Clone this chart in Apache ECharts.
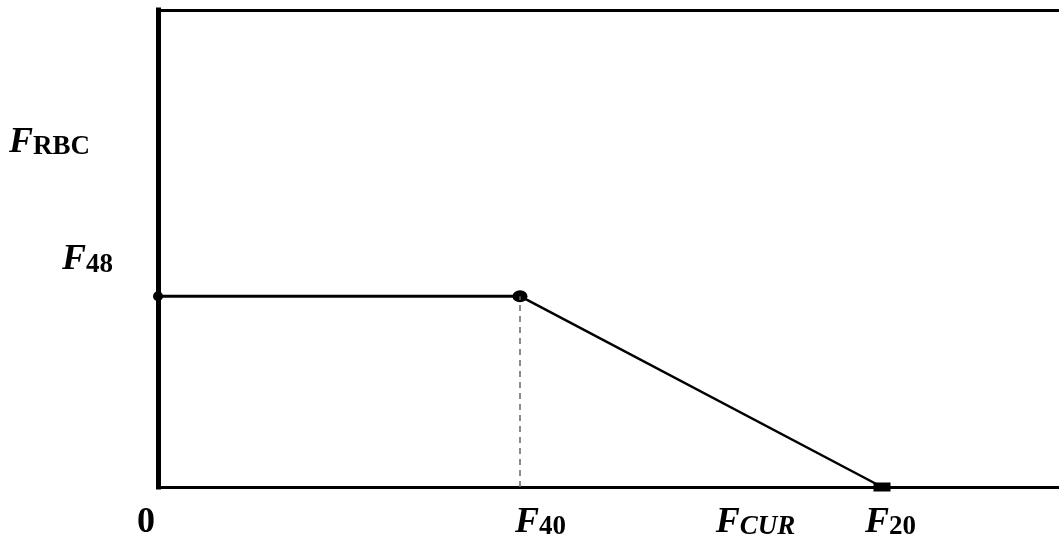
<!DOCTYPE html>
<html>
<head>
<meta charset="utf-8">
<script src="https://cdn.jsdelivr.net/npm/echarts@6/dist/echarts.min.js"></script>
<style>
html,body{margin:0;padding:0;background:#fff;}
#chart{width:1059px;height:545px;}
</style>
</head>
<body>
<div id="chart"></div>
<script>
// ---- data ----
const pointX = [0, 40, 80];          // 0, F40, F20 on the F_CUR axis
const pointY = [40, 40, 0];          // F_RBC values (F48 level, then down to 0)
const xTickValues = [0, 40, 80];
const xTickLabels = ['0', 'F|40', 'F|20'];
const yTickValues = [40];
const yTickLabels = ['F|48'];
const xName = ['F', 'CUR'];
const yName = ['F', 'RBC'];

const serif = '"Liberation Serif","DejaVu Serif",serif';
const richBase = {
  F:   {fontFamily: serif, fontSize: 36, fontWeight: 'bold', fontStyle: 'italic', color: '#000', lineHeight: 40, verticalAlign: 'bottom'},
  s:   {fontFamily: serif, fontSize: 27, fontWeight: 'bold', color: '#000', lineHeight: 24, verticalAlign: 'bottom'},
  si:  {fontFamily: serif, fontSize: 27, fontWeight: 'bold', fontStyle: 'italic', color: '#000', lineHeight: 24, verticalAlign: 'bottom'},
  n:   {fontFamily: serif, fontSize: 36, fontWeight: 'bold', color: '#000', lineHeight: 40, verticalAlign: 'bottom'},
  sp24:{width: 24, height: 10},
  sp41:{width: 41, height: 10},
  sp17:{width: 17, height: 10}
};
const xSpacer = {'0': 'after:sp24', 'F|40': 'before:sp41', 'F|20': 'before:sp17'};

function fmtSub(lbl) {
  if (lbl.indexOf('|') < 0) return '{n|' + lbl + '}';
  const p = lbl.split('|');
  return '{F|' + p[0] + '}{s|' + p[1] + '}';
}
function fmtX(val) {
  const i = xTickValues.indexOf(val);
  const lbl = xTickLabels[i];
  const sp = xSpacer[lbl];
  let t = fmtSub(lbl);
  if (sp) {
    const [where, name] = sp.split(':');
    t = where === 'after' ? t + '{' + name + '|}' : '{' + name + '|}' + t;
  }
  return t;
}

const chart = echarts.init(document.getElementById('chart'), null, {renderer: 'canvas'});
const option = {
  animation: false,
  backgroundColor: '#fff',
  grid: {left: 158, right: -4, top: 10, bottom: 58, containLabel: false, outerBoundsMode: 'none'},
  xAxis: [{
    type: 'value', min: 0, max: 100, position: 'bottom',
    axisLine: {show: true, onZero: false, lineStyle: {color: '#000', width: 3, cap: 'square'}},
    axisTick: {show: false},
    splitLine: {show: false},
    axisLabel: {
      customValues: xTickValues, margin: 14, formatter: fmtX, rich: richBase
    },
    name: '{F|' + xName[0] + '}{si|' + xName[1] + '}',
    nameLocation: 'middle', nameGap: 14, nameMoveOverlap: false,
    nameTextStyle: {rich: richBase, padding: [0, 0, 0, 290]}
  }, {
    type: 'value', min: 0, max: 100, position: 'top',
    axisLine: {show: true, onZero: false, lineStyle: {color: '#000', width: 3, cap: 'square'}},
    axisTick: {show: false}, axisLabel: {show: false}, splitLine: {show: false}
  }],
  yAxis: {
    type: 'value', min: 0, max: 100,
    axisLine: {show: true, onZero: false, lineStyle: {color: '#000', width: 5, cap: 'square'}},
    axisTick: {show: false},
    splitLine: {show: false},
    axisLabel: {
      customValues: yTickValues, margin: 45, verticalAlign: 'bottom', padding: [0, 0, 18, 0],
      formatter: function (v) { return fmtSub(yTickLabels[yTickValues.indexOf(v)]); },
      rich: richBase
    },
    name: '{F|' + yName[0] + '}{s|' + yName[1] + '}',
    nameLocation: 'middle', nameRotate: 0, nameGap: 68, nameMoveOverlap: false,
    nameTextStyle: {rich: richBase, padding: [0, 0, 216, 0]}
  },
  series: [{
    type: 'line',
    data: [[pointX[0], pointY[0]], [pointX[1], pointY[1]]],
    lineStyle: {color: '#000', width: 3},
    symbol: 'none',
    z: 3,
    markLine: {
      silent: true, symbol: 'none', label: {show: false},
      lineStyle: {color: '#666', width: 1.5, type: [6, 5]},
      data: [[{coord: [pointX[1], 0]}, {coord: [pointX[1], pointY[1]]}]]
    }
  }, {
    type: 'line',
    data: [[pointX[1], pointY[1]], [pointX[2], pointY[2]]],
    lineStyle: {color: '#000', width: 2.5},
    symbol: 'none',
    z: 3
  }, {
    type: 'scatter',
    clip: false,
    z: 4,
    itemStyle: {color: '#000', opacity: 1},
    data: [
      {value: [pointX[0], pointY[0]], symbol: 'circle', symbolSize: [10, 10]},
      {value: [pointX[1], pointY[1]], symbol: 'circle', symbolSize: [15, 12]},
      {value: [pointX[2], pointY[2]], symbol: 'rect', symbolSize: [17, 9]}
    ]
  }]
};
chart.setOption(option);
</script>
</body>
</html>
